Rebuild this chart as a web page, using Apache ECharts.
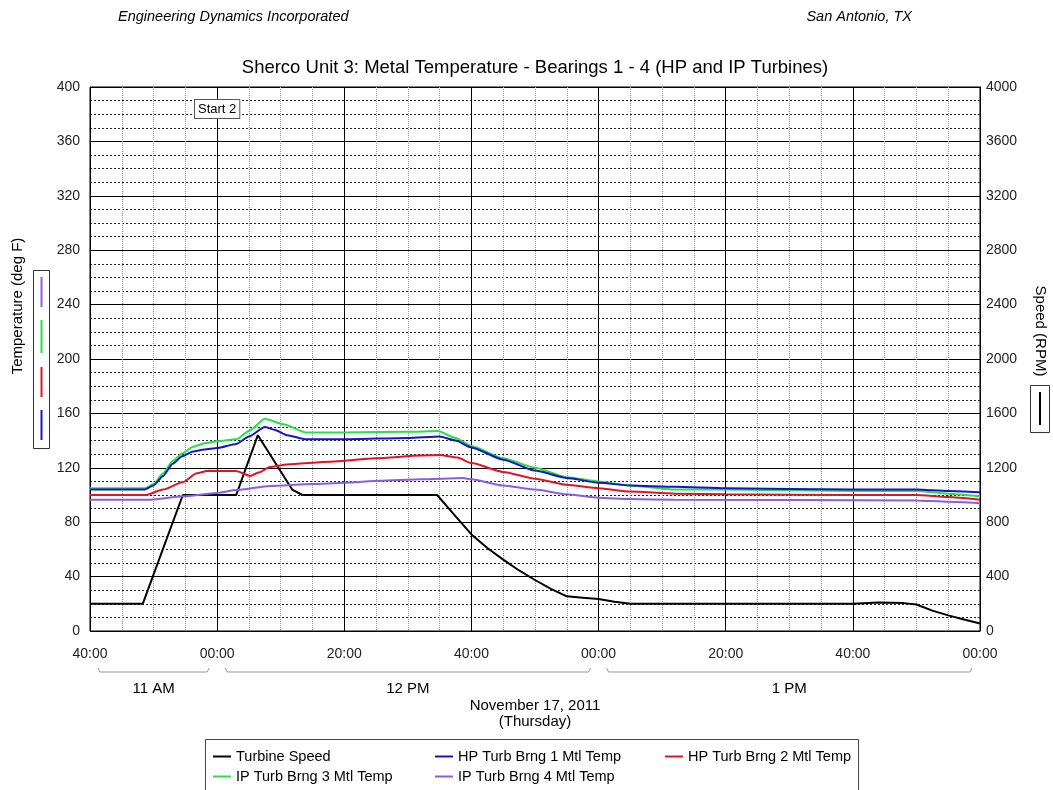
<!DOCTYPE html>
<html>
<head>
<meta charset="utf-8">
<script src="https://cdn.jsdelivr.net/npm/echarts@6.0.0/dist/echarts.min.js"></script>
<style>
  html, body { margin: 0; background: #fff; }
  #chart { width: 1053px; height: 790px; }
</style>
</head>
<body>
<div id="chart"></div>
<script>
// x values are minutes after 10:40 AM
const speedData = [[0,200],[8.3,200],[14.6,1000],[23,1000],[26.4,1440],[31.8,1040],[33.4,1000],[54.6,1000],[57,870],[60,710],[62.5,610],[65,525],[67.5,445],[70,375],[72.5,310],[75,255],[77.5,245],[80,235],[82.5,215],[85,200],[100,200],[120,200],[124,210],[128,205],[130,195],[132.5,150],[135,115],[137.5,85],[140,55]];
const hp1Data = [[0,104],[8.5,104],[10,107],[11.5,114],[13,123],[14.5,128.5],[16.2,132],[18,133.5],[20,134.6],[23,137.5],[25,143],[27.5,150],[29,148],[31,144],[34,141],[40,141],[50,142],[55,143],[57.5,140],[60,135],[65,126],[70,118],[75,112.5],[80,109],[85,107],[92,106],[100,105],[120,104],[130,104],[135,103],[140,102]];
const hp2Data = [[0,100],[8.8,100],[11.5,104],[14.6,109.5],[16.8,116],[18.6,117.8],[23,117.6],[25.2,114],[26.5,116.5],[28.3,120.6],[31,122.5],[37.8,124.5],[45,127],[52,129],[55,129.4],[57.8,127.5],[60,123.5],[65,117],[70,112],[75,107.5],[80,105],[85,102.5],[92,101],[100,100.5],[120,100],[130,100],[135,98.5],[140,96.5]];
const ip3Data = [[0,105],[8.7,105],[10,108],[11.5,116],[13,125],[14.5,130.5],[16.2,135.5],[18,138],[20,139.5],[23,141],[25,147],[27.5,156],[30.4,152],[34,146],[40,146],[50,146.5],[54.7,147],[57.5,142],[60,136],[65,127],[70,120],[75,113],[80,110],[85,107],[92,104],[100,104],[120,103],[130,103],[135,101],[140,99]];
const ip4Data = [[0,96.5],[9.5,96.5],[14.6,99],[20,101.5],[23,103.6],[28.3,106.6],[35,108],[40,109],[45.6,110.5],[52,111.5],[58.7,112.5],[60,111.5],[65,107],[70,104],[75,100.5],[80,98],[85,97],[92,96.5],[130,96],[135,95],[140,94]];

const seriesNames = ['Turbine Speed','HP Turb Brng 1 Mtl Temp','HP Turb Brng 2 Mtl Temp','IP Turb Brng 3 Mtl Temp','IP Turb Brng 4 Mtl Temp'];
const colors = ['#000000','#1414c8','#e01428','#28e048','#8a5ee0'];
const hourGroups = [
  { label: '11 AM', from: 0, to: 20 },
  { label: '12 PM', from: 20, to: 80 },
  { label: '1 PM', from: 80, to: 140 }
];

const FONT = 'Liberation Sans, Arial, sans-serif';

function lineSeries(name, data, color, yIdx, smooth) {
  return {
    name: name, type: 'line', data: data, yAxisIndex: yIdx,
    showSymbol: false, smooth: smooth, smoothMonotone: 'x',
    lineStyle: { color: color, width: 2 }, itemStyle: { color: color },
    emphasis: { disabled: true }, animation: false
  };
}

const legendBase = {
  orient: 'horizontal', padding: 0, icon: 'rect', itemWidth: 18, itemHeight: 2,
  selectedMode: false, textStyle: { fontFamily: FONT, fontSize: 14.5, color: '#000' }
};
const legendPos = [[213,749],[435,749],[665,749],[213,769],[435,769]];

const option = {
  backgroundColor: '#fff',
  animation: false,
  color: colors,
  grid: { left: 90, right: 73, top: 87, bottom: 159, show: true, borderColor: '#000', borderWidth: 1 },
  xAxis: {
    type: 'value', min: 0, max: 140, interval: 20,
    axisLine: { show: false }, axisTick: { show: false },
    axisLabel: {
      margin: 16, fontFamily: FONT, fontSize: 14, color: '#222',
      formatter: v => String((40 + v) % 60).padStart(2, '0') + ':00'
    },
    splitLine: { show: true, lineStyle: { color: '#000', width: 1 } },
    minorTick: { show: false, splitNumber: 4 },
    minorSplitLine: { show: true, lineStyle: { color: '#999', type: 'dotted', width: 1 } }
  },
  yAxis: [
    {
      type: 'value', min: 0, max: 400, interval: 40, position: 'left',
      axisLine: { show: true, lineStyle: { color: '#000' } }, axisTick: { show: false },
      axisLabel: { margin: 10, fontFamily: FONT, fontSize: 14, color: '#222' },
      splitLine: { show: true, lineStyle: { color: '#000', width: 1 } },
      minorTick: { show: false, splitNumber: 4 },
      minorSplitLine: { show: true, lineStyle: { color: '#222', type: [2, 2], width: 1 } }
    },
    {
      type: 'value', min: 0, max: 4000, interval: 400, position: 'right',
      axisLine: { show: true, lineStyle: { color: '#000' } }, axisTick: { show: false },
      axisLabel: { margin: 6, fontFamily: FONT, fontSize: 14, color: '#222', formatter: v => String(v) },
      splitLine: { show: false }
    }
  ],
  legend: seriesNames.map((n, i) => Object.assign({}, legendBase, {
    data: [n], left: legendPos[i][0], top: legendPos[i][1]
  })),
  series: [
    lineSeries(seriesNames[0], speedData, colors[0], 1, false),
    lineSeries(seriesNames[3], ip3Data, colors[3], 0, 0.2),
    lineSeries(seriesNames[1], hp1Data, colors[1], 0, 0.2),
    lineSeries(seriesNames[2], hp2Data, colors[2], 0, 0.2),
    lineSeries(seriesNames[4], ip4Data, colors[4], 0, 0.2)
  ]
};

const chart = echarts.init(document.getElementById('chart'), null, { renderer: 'canvas' });
chart.setOption(option);

// annotations placed from the axis scale
const px = m => chart.convertToPixel({ xAxisIndex: 0 }, m);
const g = [];
const txt = (x, y, text, extra, rot) => ({
  type: 'text', x: x, y: y, rotation: rot || 0,
  style: Object.assign({ text: text, fill: '#000', font: '15px ' + FONT, align: 'center', verticalAlign: 'middle' }, extra || {})
});

g.push(txt(118, 17, 'Engineering Dynamics Incorporated', { align: 'left', font: 'italic 14.5px ' + FONT }));
g.push(txt(912, 17, 'San Antonio, TX', { align: 'right', font: 'italic 14.5px ' + FONT }));
g.push(txt(535, 68, 'Sherco Unit 3: Metal Temperature - Bearings 1 - 4 (HP and IP Turbines)', { font: '18.5px ' + FONT }));

// Start 2 marker
g.push(txt(px(20), 109, 'Start 2', {
  font: '13px ' + FONT, backgroundColor: '#fff', borderColor: '#555', borderWidth: 1, padding: [3, 3, 2, 3]
}));

// hour brackets
const by = 672;
hourGroups.forEach(h => {
  const x1 = px(h.from) + 8, x2 = px(h.to) - 8;
  g.push({
    type: 'polyline',
    shape: { points: [[x1, by - 4], [x1 + 2, by], [x2 - 2, by], [x2, by - 4]] },
    style: { stroke: '#999', lineWidth: 1, fill: null }
  });
  g.push(txt((x1 + x2) / 2, 689, h.label));
});
g.push(txt(px(70), 706, 'November 17, 2011'));
g.push(txt(px(70), 722, '(Thursday)'));

// axis titles with line keys
g.push(txt(18, 306, 'Temperature (deg F)', {}, Math.PI / 2));
g.push({ type: 'rect', shape: { x: 33.5, y: 270.5, width: 16, height: 178 }, style: { fill: null, stroke: '#333', lineWidth: 1 } });
[[colors[4], 277, 307], [colors[3], 320, 353], [colors[2], 367, 397], [colors[1], 410, 440]].forEach(s => {
  g.push({ type: 'line', shape: { x1: 41.5, y1: s[1], x2: 41.5, y2: s[2] }, style: { stroke: s[0], lineWidth: 2 } });
});
g.push(txt(1040, 331, 'Speed (RPM)', {}, -Math.PI / 2));
g.push({ type: 'rect', shape: { x: 1030.5, y: 385.5, width: 19, height: 47 }, style: { fill: null, stroke: '#333', lineWidth: 1 } });
g.push({ type: 'line', shape: { x1: 1040, y1: 392, x2: 1040, y2: 425 }, style: { stroke: '#000', lineWidth: 2 } });

// legend frame
g.push({ type: 'rect', z: -1, shape: { x: 205.5, y: 739.5, width: 653, height: 60 }, style: { fill: null, stroke: '#444', lineWidth: 1 } });

chart.setOption({ graphic: g });

window.onresize = function () { chart.resize(); };
</script>
</body>
</html>
